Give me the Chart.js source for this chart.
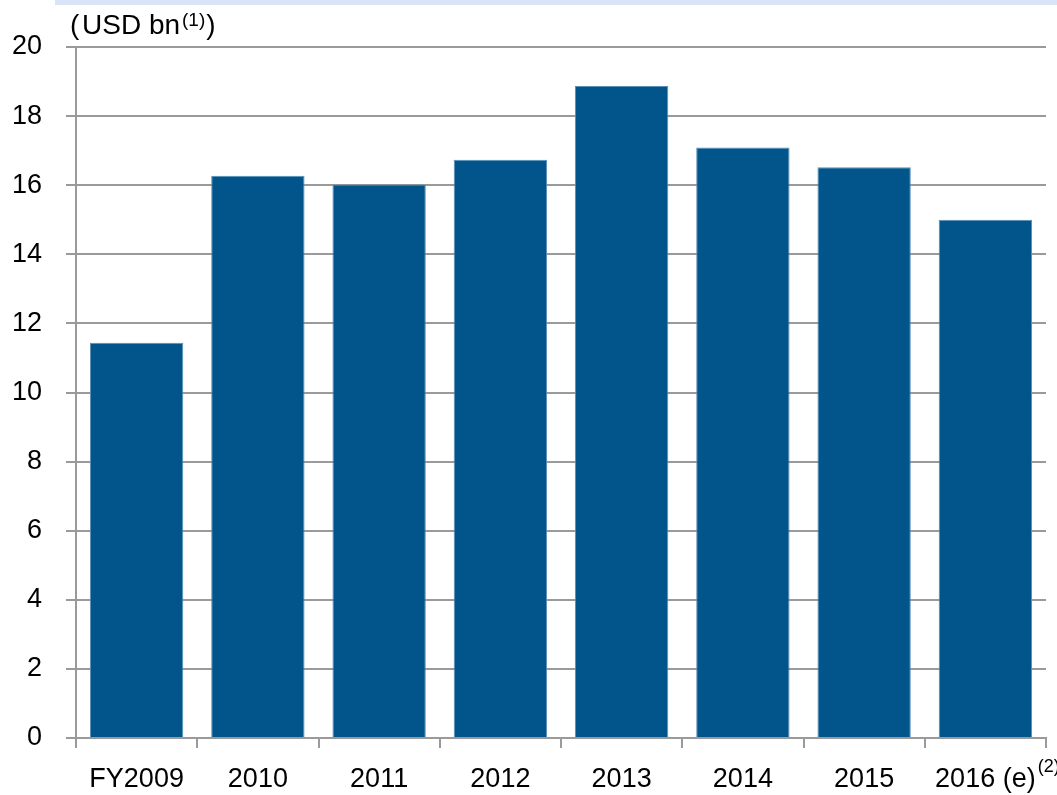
<!DOCTYPE html>
<html>
<head>
<meta charset="utf-8">
<script src="https://cdn.jsdelivr.net/npm/chart.js@4.4.1/dist/chart.umd.min.js"></script>
<style>
  html, body { margin: 0; padding: 0; background: #ffffff; }
  #wrap { position: relative; width: 1057px; height: 795px; }
</style>
</head>
<body>
<div id="wrap"><canvas id="chart" width="1057" height="795"></canvas></div>
<script>
// Annual amounts, USD bn
const categories = ['FY2009', '2010', '2011', '2012', '2013', '2014', '2015', '2016 (e)'];
const values = [11.44, 16.27, 16.02, 16.74, 18.87, 17.09, 16.52, 15.0];
const yTicks = [0, 2, 4, 6, 8, 10, 12, 14, 16, 18, 20];

const unitLabel = ['(', 'USD bn', '(1)', ')'];
const lastNote = '(2)';

const FONT = '"Liberation Sans", Arial, Helvetica, sans-serif';
const BAR = '#01558B';
const GRID = '#9a9a9a';

// Light header strip, unit label with superscript, and the footnote marker on the last category
const decorations = {
  id: 'decorations',
  beforeDraw(chart) {
    const ctx = chart.ctx;
    ctx.save();
    ctx.fillStyle = '#ffffff';
    ctx.fillRect(0, 0, chart.width, chart.height);
    ctx.fillStyle = '#d9e4f7';
    ctx.fillRect(55, 0, chart.width - 55, 5);
    ctx.restore();
  },
  afterDraw(chart) {
    const ctx = chart.ctx;
    ctx.save();
    ctx.fillStyle = '#000000';
    ctx.textBaseline = 'alphabetic';
    ctx.textAlign = 'left';

    // unit label
    ctx.font = '28px ' + FONT;
    ctx.fillText(unitLabel[0], 70, 34);
    let x = 82;
    ctx.fillText(unitLabel[1], x, 34);
    x += ctx.measureText(unitLabel[1]).width + 2;
    ctx.font = '19px ' + FONT;
    ctx.fillText(unitLabel[2], x, 26);
    x += ctx.measureText(unitLabel[2]).width + 1;
    ctx.font = '28px ' + FONT;
    ctx.fillText(unitLabel[3], x, 34);

    // footnote marker after the last category label
    const xs = chart.scales.x;
    const idx = categories.length - 1;
    const cx = xs.getPixelForTick(idx);
    ctx.font = '27px ' + FONT;
    const w = ctx.measureText(categories[idx]).width;
    ctx.font = '18px ' + FONT;
    ctx.fillText(lastNote, cx + w / 2 + 2, 772);
    ctx.restore();
  }
};

new Chart(document.getElementById('chart'), {
  type: 'bar',
  data: {
    labels: categories,
    datasets: [{
      data: values,
      backgroundColor: BAR,
      borderColor: '#5a8fba',
      borderWidth: 1,
      borderSkipped: 'bottom',
      barPercentage: 0.77,
      categoryPercentage: 1.0
    }]
  },
  options: {
    responsive: false,
    animation: false,
    devicePixelRatio: 1,
    layout: { padding: { left: 0, right: 11, top: 47, bottom: 0 } },
    plugins: {
      legend: { display: false },
      tooltip: { enabled: false },
      title: { display: false }
    },
    scales: {
      x: {
        afterFit(scale) { scale.height = 57; },
        grid: {
          offset: true,
          drawOnChartArea: false,
          drawTicks: true,
          tickLength: 10,
          color: GRID,
          lineWidth: 2
        },
        border: { display: true, color: GRID, width: 2 },
        ticks: {
          color: '#000000',
          font: { family: FONT, size: 27 },
          padding: 15,
          maxRotation: 0,
          autoSkip: false
        }
      },
      y: {
        min: 0,
        max: 20,
        afterFit(scale) { scale.width = 76; },
        afterBuildTicks(scale) { scale.ticks = yTicks.map(v => ({ value: v })); },
        grid: {
          drawTicks: true,
          tickLength: 10,
          color: GRID,
          lineWidth: 2
        },
        border: { display: true, color: GRID, width: 2 },
        ticks: {
          color: '#000000',
          font: { family: FONT, size: 27 },
          padding: 24
        }
      }
    }
  },
  plugins: [decorations]
});
</script>
</body>
</html>
